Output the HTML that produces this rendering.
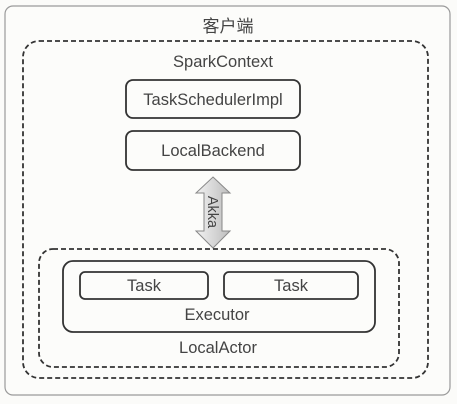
<!DOCTYPE html>
<html><head><meta charset="utf-8"><style>
html,body{margin:0;padding:0;background:#fbfbf9;}
svg{display:block;}
text{font-family:"Liberation Sans","Noto Sans CJK SC",sans-serif;fill:#444;}
</style></head><body>
<svg width="457" height="404" viewBox="0 0 457 404" xmlns="http://www.w3.org/2000/svg">
<rect x="0" y="0" width="457" height="404" fill="#fbfbf9"/>
<rect x="5" y="6" width="445" height="389" rx="8" fill="#fcfcfa" stroke="#9a9a9a" stroke-width="1.2"/>
<text x="228" y="32" font-size="17" text-anchor="middle" fill="#555">客户端</text>
<rect x="23" y="41" width="405" height="337" rx="16" fill="none" stroke="#333" stroke-width="1.8" stroke-dasharray="5,3"/>
<text x="223" y="67" font-size="16.5" text-anchor="middle">SparkContext</text>
<rect x="126" y="80" width="174" height="38" rx="7" fill="none" stroke="#333" stroke-width="1.8"/>
<text x="213" y="105" font-size="16.5" text-anchor="middle">TaskSchedulerImpl</text>
<rect x="126" y="131" width="174" height="39" rx="7" fill="none" stroke="#333" stroke-width="1.8"/>
<text x="213" y="156" font-size="16.5" text-anchor="middle">LocalBackend</text>
<defs><linearGradient id="g" x1="0" x2="1"><stop offset="0" stop-color="#f2f2f2"/><stop offset="1" stop-color="#bdbdbd"/></linearGradient></defs>
<polygon points="213,177 230,193 222,193 222,231 230,231 213,248 196,231 204,231 204,193 196,193" fill="url(#g)" stroke="#888" stroke-width="1"/>
<text x="0" y="0" font-size="14.5" text-anchor="middle" transform="translate(208,212) rotate(90)" fill="#333">Akka</text>
<rect x="39" y="249" width="360" height="118" rx="14" fill="none" stroke="#333" stroke-width="1.8" stroke-dasharray="5,3"/>
<rect x="63" y="261" width="312" height="71" rx="10" fill="none" stroke="#333" stroke-width="1.8"/>
<rect x="80" y="272" width="128" height="27" rx="5" fill="none" stroke="#333" stroke-width="1.8"/>
<text x="144" y="291" font-size="16.5" text-anchor="middle">Task</text>
<rect x="224" y="272" width="134" height="27" rx="5" fill="none" stroke="#333" stroke-width="1.8"/>
<text x="291" y="291" font-size="16.5" text-anchor="middle">Task</text>
<text x="217" y="320" font-size="16.5" text-anchor="middle">Executor</text>
<text x="218" y="353" font-size="16.5" text-anchor="middle">LocalActor</text>
</svg>
</body></html>
